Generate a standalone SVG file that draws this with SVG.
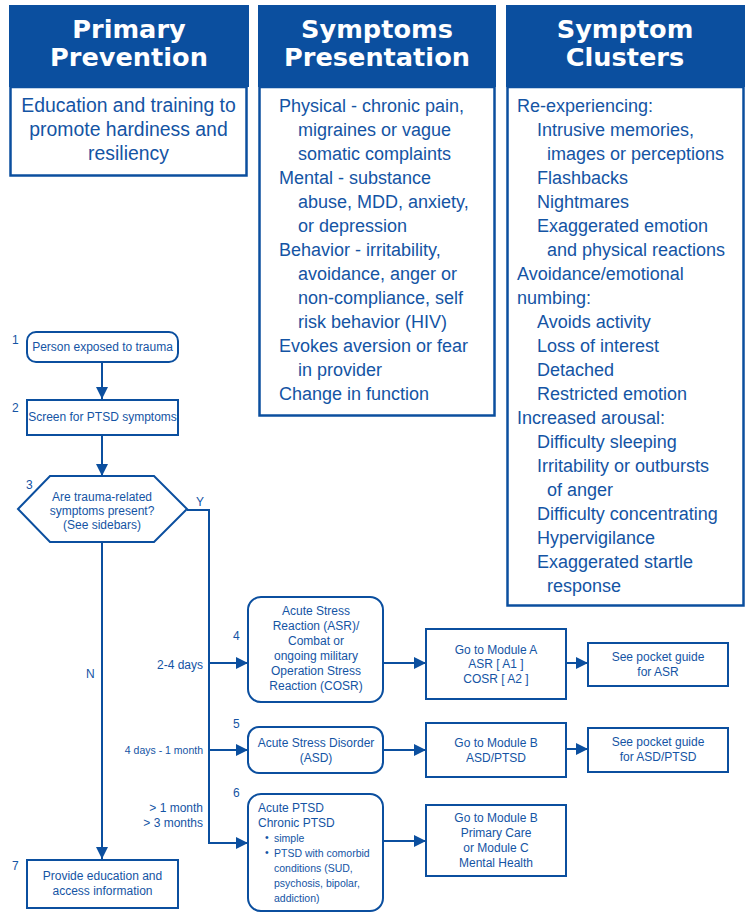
<svg xmlns="http://www.w3.org/2000/svg" width="752" height="914" viewBox="0 0 752 914">
<defs>
<style>
.hdr{fill:#0b4f9f}
.body{fill:#fff;stroke:#0b4f9f;stroke-width:2.5}
.ht{font-family:"DejaVu Sans",sans-serif;font-weight:bold;font-size:25.6px;fill:#fff;text-anchor:middle}
.bt{font-family:"Liberation Sans",Arial,sans-serif;font-size:18px;fill:#1454a4}
.big{font-size:19.4px}
.c{text-anchor:middle}
.r{text-anchor:end}
.box{fill:#fff;stroke:#0b4f9f;stroke-width:2}
.ft{font-family:"Liberation Sans",Arial,sans-serif;font-size:12px;fill:#1454a4}
.sm{font-size:10.5px}
.num{font-family:"Liberation Sans",Arial,sans-serif;font-size:12px;fill:#1454a4}
.ln{fill:none;stroke:#0b4f9f;stroke-width:2}
</style>
<marker id="ah" markerUnits="userSpaceOnUse" markerWidth="14" markerHeight="14" refX="12" refY="6" orient="auto">
<path d="M0,0 L12,6 L0,12 Z" fill="#0b4f9f"/>
</marker>
</defs>
<rect width="752" height="914" fill="#fff"/>

<g id="primary-prevention">
<rect class="hdr" x="9" y="5" width="240" height="82"/>
<text class="ht" x="129" y="38">Primary</text>
<text class="ht" x="129" y="66">Prevention</text>
<rect class="body" x="10.5" y="87" width="236" height="88.5"/>
<text class="bt big c" x="128.5" y="112">Education and training to</text>
<text class="bt big c" x="128.5" y="136">promote hardiness and</text>
<text class="bt big c" x="128.5" y="160">resiliency</text>
</g>

<g id="symptoms-presentation">
<rect class="hdr" x="258" y="5" width="238" height="82"/>
<text class="ht" x="377" y="38">Symptoms</text>
<text class="ht" x="377" y="66">Presentation</text>
<rect class="body" x="259.5" y="87" width="235" height="328.5"/>
<text class="bt" x="279" y="112">Physical - chronic pain,</text>
<text class="bt" x="298" y="136">migraines or vague</text>
<text class="bt" x="298" y="160">somatic complaints</text>
<text class="bt" x="279" y="184">Mental - substance</text>
<text class="bt" x="298" y="208">abuse, MDD, anxiety,</text>
<text class="bt" x="298" y="232">or depression</text>
<text class="bt" x="279" y="256">Behavior - irritability,</text>
<text class="bt" x="298" y="280">avoidance, anger or</text>
<text class="bt" x="298" y="304">non-compliance, self</text>
<text class="bt" x="298" y="328">risk behavior (HIV)</text>
<text class="bt" x="279" y="352">Evokes aversion or fear</text>
<text class="bt" x="298" y="376">in provider</text>
<text class="bt" x="279" y="400">Change in function</text>
</g>

<g id="symptom-clusters">
<rect class="hdr" x="506" y="5" width="239" height="82"/>
<text class="ht" x="625" y="38">Symptom</text>
<text class="ht" x="625" y="66">Clusters</text>
<rect class="body" x="507.5" y="87" width="236" height="518.5"/>
<text class="bt" x="517" y="112">Re-experiencing:</text>
<text class="bt" x="537" y="136">Intrusive memories,</text>
<text class="bt" x="547" y="160">images or perceptions</text>
<text class="bt" x="537" y="184">Flashbacks</text>
<text class="bt" x="537" y="208">Nightmares</text>
<text class="bt" x="537" y="232">Exaggerated emotion</text>
<text class="bt" x="547" y="256">and physical reactions</text>
<text class="bt" x="517" y="280">Avoidance/emotional</text>
<text class="bt" x="517" y="304">numbing:</text>
<text class="bt" x="537" y="328">Avoids activity</text>
<text class="bt" x="537" y="352">Loss of interest</text>
<text class="bt" x="537" y="376">Detached</text>
<text class="bt" x="537" y="400">Restricted emotion</text>
<text class="bt" x="517" y="424">Increased arousal:</text>
<text class="bt" x="537" y="448">Difficulty sleeping</text>
<text class="bt" x="537" y="472">Irritability or outbursts</text>
<text class="bt" x="547" y="496">of anger</text>
<text class="bt" x="537" y="520">Difficulty concentrating</text>
<text class="bt" x="537" y="544">Hypervigilance</text>
<text class="bt" x="537" y="568">Exaggerated startle</text>
<text class="bt" x="547" y="592">response</text>
</g>

<g id="connectors">
<line class="ln" x1="102" y1="362" x2="102" y2="399" marker-end="url(#ah)"/>
<line class="ln" x1="102" y1="435" x2="102" y2="476" marker-end="url(#ah)"/>
<polyline class="ln" points="187,510 209,510 209,843"/>
<line class="ln" x1="102" y1="542" x2="102" y2="859" marker-end="url(#ah)"/>
<line class="ln" x1="208" y1="663" x2="248" y2="663" marker-end="url(#ah)"/>
<line class="ln" x1="208" y1="750" x2="248" y2="750" marker-end="url(#ah)"/>
<line class="ln" x1="208" y1="843" x2="248" y2="843" marker-end="url(#ah)"/>
<line class="ln" x1="383" y1="663" x2="426" y2="663" marker-end="url(#ah)"/>
<line class="ln" x1="383" y1="750" x2="426" y2="750" marker-end="url(#ah)"/>
<line class="ln" x1="383" y1="841" x2="426" y2="841" marker-end="url(#ah)"/>
<line class="ln" x1="566" y1="663" x2="588" y2="663" marker-end="url(#ah)"/>
<line class="ln" x1="566" y1="749" x2="588" y2="749" marker-end="url(#ah)"/>
<text class="ft" x="196" y="506">Y</text>
<text class="ft" x="86" y="678">N</text>
<text class="ft r" x="203" y="669">2-4 days</text>
<text class="ft r" x="203" y="754" style="font-size:10.5px">4 days - 1 month</text>
<text class="ft r" x="203" y="812">&gt; 1 month</text>
<text class="ft r" x="203" y="827">&gt; 3 months</text>
</g>

<g id="node1">
<rect class="box" x="27" y="332" width="151" height="30" rx="9"/>
<text class="ft c" x="102.5" y="351">Person exposed to trauma</text>
<text class="num" x="12" y="344">1</text>
</g>

<g id="node2">
<rect class="box" x="27" y="400" width="151" height="35"/>
<text class="ft c" x="102.5" y="421">Screen for PTSD symptoms</text>
<text class="num" x="12" y="412">2</text>
</g>

<g id="node3">
<polygon class="box" points="18,509 50,476 154,476 187,509 154,542 50,542"/>
<text class="ft c" x="102" y="501">Are trauma-related</text>
<text class="ft c" x="102" y="515">symptoms present?</text>
<text class="ft c" x="102" y="529">(See sidebars)</text>
<text class="num" x="26" y="489">3</text>
</g>

<g id="node4">
<rect class="box" x="248" y="597" width="135" height="105" rx="13"/>
<text class="ft c" x="316" y="615">Acute Stress</text>
<text class="ft c" x="316" y="630">Reaction (ASR)/</text>
<text class="ft c" x="316" y="645">Combat or</text>
<text class="ft c" x="316" y="660">ongoing military</text>
<text class="ft c" x="316" y="675">Operation Stress</text>
<text class="ft c" x="316" y="690">Reaction (COSR)</text>
<text class="num" x="233" y="640">4</text>
</g>

<g id="node5">
<rect class="box" x="248" y="727" width="135" height="46" rx="11"/>
<text class="ft c" x="316" y="747">Acute Stress Disorder</text>
<text class="ft c" x="316" y="762">(ASD)</text>
<text class="num" x="233" y="728">5</text>
</g>

<g id="node6">
<rect class="box" x="248" y="794" width="135" height="117" rx="13"/>
<text class="ft" x="258" y="812">Acute PTSD</text>
<text class="ft" x="258" y="827">Chronic PTSD</text>
<text class="ft sm" x="265" y="841">•</text>
<text class="ft sm" x="274" y="842">simple</text>
<text class="ft sm" x="265" y="856">•</text>
<text class="ft sm" x="274" y="857">PTSD with comorbid</text>
<text class="ft sm" x="274" y="872">conditions (SUD,</text>
<text class="ft sm" x="274" y="887">psychosis, bipolar,</text>
<text class="ft sm" x="274" y="902">addiction)</text>
<text class="num" x="233" y="797">6</text>
</g>

<g id="node7">
<rect class="box" x="27" y="860" width="151" height="48"/>
<text class="ft c" x="102.5" y="880">Provide education and</text>
<text class="ft c" x="102.5" y="895">access information</text>
<text class="num" x="12" y="870">7</text>
</g>

<g id="moduleA">
<rect class="box" x="426" y="629" width="140" height="70"/>
<text class="ft c" x="496" y="654">Go to Module A</text>
<text class="ft c" x="496" y="668">ASR [ A1 ]</text>
<text class="ft c" x="496" y="683">COSR [ A2 ]</text>
</g>

<g id="pocketASR">
<rect class="box" x="588" y="643" width="140" height="43"/>
<text class="ft c" x="658" y="661">See pocket guide</text>
<text class="ft c" x="658" y="676">for ASR</text>
</g>

<g id="moduleB">
<rect class="box" x="426" y="723" width="140" height="54"/>
<text class="ft c" x="496" y="747">Go to Module B</text>
<text class="ft c" x="496" y="762">ASD/PTSD</text>
</g>

<g id="pocketASD">
<rect class="box" x="588" y="728" width="140" height="44"/>
<text class="ft c" x="658" y="746">See pocket guide</text>
<text class="ft c" x="658" y="761">for ASD/PTSD</text>
</g>

<g id="moduleBC">
<rect class="box" x="426" y="805" width="140" height="71"/>
<text class="ft c" x="496" y="822">Go to Module B</text>
<text class="ft c" x="496" y="837">Primary Care</text>
<text class="ft c" x="496" y="852">or Module C</text>
<text class="ft c" x="496" y="867">Mental Health</text>
</g>
</svg>
